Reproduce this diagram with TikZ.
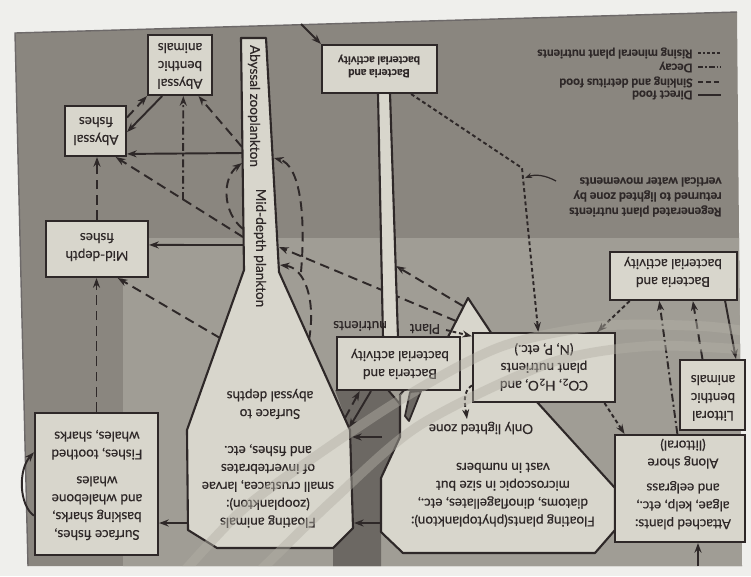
\documentclass[tikz,border=0pt]{standalone}
\usepackage{fontspec}
\setmainfont{Lato}[FakeBold=0.35]
\usetikzlibrary{arrows.meta,calc,fit}
\definecolor{bgdark}{HTML}{8A867F}
\definecolor{bglight}{HTML}{A09D95}
\definecolor{boxfill}{HTML}{D8D6CC}
\definecolor{ink}{HTML}{2E2828}
\definecolor{paper}{HTML}{EFEFEC}
\definecolor{darkshade}{HTML}{6C6863}
\definecolor{bandc}{HTML}{B3B0A6}
\begin{document}
\begin{tikzpicture}[x=0.02cm,y=-0.02cm,
  box/.style={draw=ink,line width=1.2pt,fill=boxfill,inner sep=0pt},
  txt/.style={align=center,font=\fontsize{7.7}{10.2}\selectfont,text=ink,rotate=180,inner sep=0pt},
  smalltxt/.style={txt,font=\fontsize{6.3}{7.3}\selectfont\bfseries},
  vtxt/.style={font=\fontsize{7.7}{10}\selectfont,text=ink,rotate=-90,inner sep=0pt},
  leg/.style={font=\fontsize{6.8}{8.5}\selectfont\bfseries,text=ink,inner sep=0pt,rotate=180,align=right},
  con/.style={draw=ink,line width=1.1pt,-{Stealth[length=5.5pt,width=4pt]}},
  food/.style={con},
  sink/.style={con,dash pattern=on 5.5pt off 3.2pt},
  decay/.style={con,dash pattern=on 4.5pt off 1.8pt on 1.2pt off 1.8pt},
  rise/.style={con,dash pattern=on 2.2pt off 1.6pt},
  solidshape/.style={draw=ink,line width=1.2pt,fill=boxfill,line join=round},
  band/.style={draw=bandc,line width=5.5pt,opacity=0.45},
]
\useasboundingbox (0,0) rectangle (751,576);
\fill[paper] (0,0) rectangle (751,576);
\path[fill=bgdark] (15,33) -- (737,12) -- (742,566) -- (28,566) -- cycle;
\begin{scope}
  \clip (15,33) -- (737,12) -- (742,566) -- (28,566) -- cycle;
  \fill[bglight] (123,238) rectangle (760,580);
\end{scope}
\draw[ink!70,line width=0.8pt] (737,12) -- (15,33) -- (28,566);

% dark region between the two plankton shapes
\fill[darkshade] (335,390) -- (388,390) -- (400,404) -- (400,437) -- (381,478) -- (381,566) -- (333,566) -- (333,548) -- (353,528) -- (350,430) -- cycle;
\draw[ink,line width=1.1pt,line join=round] (388,390) -- (400,404) -- (400,437);

% zooplankton flask
\filldraw[solidshape] (241,38) -- (266,38) -- (279,272) -- (350,430) -- (353,528) -- (333,548) -- (217,548) -- (188,530) -- (187,430) -- (244,270) -- cycle;
% phytoplankton pyramid
\filldraw[solidshape] (468,298) -- (448,337) -- (400,395) -- (400,437) -- (381,478) -- (381,532) -- (403,553) -- (595,553) -- (615,530) -- (615,488) -- (537,402) -- cycle;
\filldraw[fill=darkshade,draw=ink,line width=1pt,line join=round] (410,392) -- (421,391) -- (409,421) -- (405,416) -- cycle;

% named points on the shapes
\coordinate (nA) at (242,153);
\coordinate (nB) at (242,147);
\coordinate (nC) at (243,237);
\coordinate (nD) at (243,245);
\coordinate (dd) at (183,200);
\coordinate (nE) at (243,229);
\coordinate (nF) at (242,163);
\coordinate (nG) at (301,272);
\coordinate (nH) at (274,158);
\coordinate (fR1) at (309,340);
\coordinate (nI) at (280,265);
\coordinate (nJ) at (279,247);
\coordinate (p16) at (456,321);
\coordinate (p17) at (463,306);
\coordinate (sR) at (396,266);
\coordinate (fL1) at (220,338);
\coordinate (fL2) at (188,523);
\coordinate (fR2) at (345,418);
\coordinate (fR3) at (349,428);
\coordinate (fR4) at (352,437);
\coordinate (fR5) at (354,523);
\coordinate (p31) at (382,437);
\coordinate (p32) at (382,523);
\coordinate (plantpt) at (446,330);
\coordinate (bend) at (522,168);
\coordinate (ptr) at (556,181);
\coordinate (ptrtip) at (525,178);
\coordinate (olz) at (467,419);
\coordinate (topin) at (301,24);
\coordinate (botin) at (698,566);

% arrow passing behind the stem
\draw[sink] (p16) -- (nJ);

% stem of the bacteria boxes
\fill[boxfill] (378,93) -- (390,93) -- (398,338) -- (383,338) -- cycle;
\draw[ink,line width=1.2pt] (378,93) -- (383,338) (390,93) -- (398,338);

% boxes
\node[box,fit={(148,35) (212,95)}] (abb) {};
\node[box,fit={(65,106) (126,156)}] (abf) {};
\node[box,fit={(46,221) (148,277)}] (mdf) {};
\node[box,fit={(35,413) (158,555)}] (sf) {};
\node[box,fit={(322,45) (437,93)}] (btop) {};
\node[box,fit={(337,337) (460,390)}] (bmid) {};
\node[box,fit={(473,333) (615,402)}] (co2) {};
\node[box,fit={(610,252) (737,300)}] (bright) {};
\node[box,fit={(680,360) (745,430)}] (lit) {};
\node[box,fit={(615,435) (745,542)}] (shore) {};

% box texts (printed upside down)
\node[txt] (abbt) at (180,66) {Abyssal\\benthic\\animals};
\node[txt] (abft) at (96,131) {Abyssal\\fishes};
\node[txt] (mdft) at (97,247) {Mid-depth\\fishes};
\node[txt] (sft) at (97,485) {Surface fishes,\\basking sharks,\\and whalebone\\whales\\[5pt]Fishes, toothed\\whales, sharks};
\node[smalltxt] (btopt) at (379,66) {Bacteria and\\bacterial activity};
\node[txt] (bmidt) at (400,364) {Bacteria and\\bacterial activity};
\node[txt] (co2t) at (544,367) {CO\textsubscript{2}, H\textsubscript{2}O, and\\plant nutrients\\(N, P, etc.)};
\node[txt] (brightt) at (673,272) {Bacteria and\\bacterial activity};
\node[txt] (litt) at (713,398) {Littoral\\benthic\\animals};
\node[txt] (shoret) at (683,484) {Attached plants:\\algae, kelp, etc.,\\and eelgrass\\[4pt]Along shore\\(littoral)};

% texts on the shapes
\node[vtxt] (abz) at (254,106) {Abyssal zooplankton};
\node[vtxt] (mdp) at (260,248) {Mid-depth plankton};
\node[txt] (surftx) at (270,404) {Surface to\\abyssal depths};
\node[txt] (zootx) at (268,486) {Floating animals\\(zooplankton):\\small crustacea, larvae\\of invertebrates\\and fishes, etc.};
\node[txt] (phytx) at (503,495) {Floating plants(phytoplankton):\\diatoms, dinoflagellates, etc.,\\microscopic in size but\\vast in numbers};
\node[txt] (olztx) at (481,428) {Only lighted zone};
\node[txt] (nutr) at (360,326) {nutrients};
\node[txt] (plant) at (425,329) {Plant};

% legend (anchor west of a 180-rotated node is its right side on the page)
\node[leg,anchor=west] (lg1) at (693,53) {Rising mineral plant nutrients};
\node[leg,anchor=west] (lg2) at (693,67) {Decay};
\node[leg,anchor=west] (lg3) at (693,82) {Sinking and detritus food};
\node[leg,anchor=west] (lg4) at (693,95) {Direct food};
\draw[ink,line width=1pt,dash pattern=on 1.5pt off 1.2pt] (698,53) -- (721,53);
\draw[ink,line width=1pt,dash pattern=on 3pt off 1.2pt on 1pt off 1.2pt] (698,67) -- (721,67);
\draw[ink,line width=1pt,dash pattern=on 3pt off 1.5pt] (698,82) -- (721,82);
\draw[ink,line width=1pt] (698,95) -- (721,95);

\node[leg,align=left,anchor=west,font=\fontsize{7}{8.6}\selectfont\bfseries] (regen) at (722,197) {Regenerated plant nutrients\\returned to lighted zone by\\vertical water movements};

% connectors
\draw[food] (nA) -- ($(abf.north east)!0.94!(abf.south east)$);
\draw[sink] (nB) -- ($(abb.south west)!0.78!(abb.south east)$);
\draw[decay] (dd) -- ($(abb.south west)!0.55!(abb.south east)$);
\draw[food] ($(abb.south west)!0.23!(abb.south east)$) -- ($(abf.north east)!0.52!(abf.south east)$);
\draw[sink] ($(abf.north east)!0.24!(abf.south east)$) -- (abb.south west);
\draw[sink] (nC) -- ($(abf.south west)!0.82!(abf.south east)$);
\draw[food] (nD) -- ($(mdf.north east)!0.43!(mdf.south east)$);
\draw[sink] (mdf.north) -- (mdf.north |- abf.south);
\draw[sink] (sf.north) -- (sf.north |- mdf.south);
\draw[sink] (fL1) -- ($(mdf.south west)!0.70!(mdf.south east)$);
\draw[food] (fL2) -- (fL2 -| sf.east);
\draw[food] ($(sf.north west)!0.72!(sf.south west)$) .. controls (19,505) and (18,470) .. ($(sf.north west)!0.28!(sf.south west)$);
\draw[sink] (nE) .. controls (222,212) and (222,178) .. (nF);
\draw[sink] (nG) .. controls (306,215) and (300,165) .. (nH);
\draw[sink] (fR1) .. controls (316,300) and (305,268) .. (nI);
\draw[sink] (p17) -- (sR);
\draw[rise] (plantpt) -- ($(co2.north west)!0.06!(co2.south west)$);
\draw[rise] ($(btop.south west)!0.77!(btop.south east)$) -- (bend) -- ($(co2.north west)!0.46!(co2.north east)$);
\draw[food,line width=0.7pt,-{Stealth[length=4pt,width=3pt]}] (ptr) .. controls (545,175) and (535,174) .. (ptrtip);
\draw[rise] ($(co2.north west)!0.75!(co2.south west)$) .. controls (462,392) and (465,405) .. (olz);
\draw[rise] ($(co2.south west)!0.92!(co2.south east)$) -- ($(shore.north west)!0.08!(shore.north east)$);
\draw[rise] ($(bright.south west)!0.16!(bright.south east)$) -- ($(co2.north west)!0.87!(co2.north east)$);
\draw[decay] ($(shore.north west)!0.48!(shore.north east)$) -- ($(bright.south west)!0.39!(bright.south east)$);
\draw[sink] ($(lit.north west)!0.35!(lit.north east)$) -- ($(bright.south west)!0.65!(bright.south east)$);
\draw[food] ($(bright.south west)!0.9!(bright.south east)$) -- ($(lit.north west)!0.85!(lit.north east)$);
\draw[food] (botin) -- (botin |- shore.south);
\draw[food] (topin) -- (btop.north west);
\draw[food] ($(bmid.south west)!0.28!(bmid.south east)$) -- (fR3);
\draw[sink] (fR2) -- ($(bmid.south west)!0.19!(bmid.south east)$);
\draw[food] (p31) -- (fR4);
\draw[food] (p32) -- (fR5);

% faint printed arcs of the background
\begin{scope}
  \clip (15,33) -- (737,12) -- (742,566) -- (28,566) -- cycle;
  \draw[band] plot[smooth] coordinates {(180,576) (240,512) (300,467) (400,400) (500,347) (600,326) (700,326) (751,332)};
  \draw[band] plot[smooth] coordinates {(255,576) (333,500) (420,425) (550,363) (650,346) (751,350)};
\end{scope}
\end{tikzpicture}
\end{document}
